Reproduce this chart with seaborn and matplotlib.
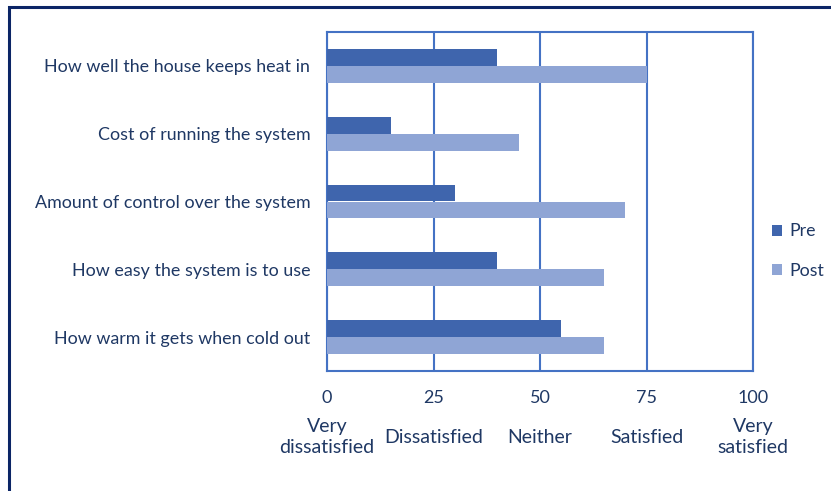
import pandas as pd
import matplotlib.pyplot as plt
import seaborn as sns
from matplotlib.patches import Rectangle
import matplotlib.transforms as mtransforms

# Dados
questions = ['How well the house keeps heat in',
             'Cost of running the system',
             'Amount of control over the system',
             'How easy the system is to use',
             'How warm it gets when cold out']
pre = [40, 15, 30, 40, 55]
post = [75, 45, 70, 65, 65]
ticks = [0, 25, 50, 75, 100]
scale_labels = ['Very\ndissatisfied', 'Dissatisfied', 'Neither', 'Satisfied', 'Very\nsatisfied']

df = pd.DataFrame({
    'Question': questions * 2,
    'Score': pre + post,
    'Group': ['Pre'] * len(pre) + ['Post'] * len(post),
})

sns.set_style('white')
plt.rcParams['font.family'] = ['Lato', 'DejaVu Sans']
txt = '#1F3864'
grid_c = '#4472C4'

fig = plt.figure(figsize=(8.31, 4.91), dpi=100)
ax = fig.add_axes([327 / 831, 1 - 371 / 491, 426 / 831, 339 / 491])

sns.barplot(data=df, x='Score', y='Question', hue='Group', hue_order=['Pre', 'Post'],
            palette={'Pre': '#3F65AD', 'Post': '#8FA5D5'}, orient='h',
            width=0.5, gap=0, saturation=1, linewidth=0, ax=ax, zorder=3)

ax.set_xlim(0, 100)
ax.set_xticks(ticks)
ax.xaxis.grid(True, color=grid_c, linewidth=1.5, zorder=0)
ax.yaxis.grid(False)
for s in ax.spines.values():
    s.set_color(grid_c)
    s.set_linewidth(1.5)
ax.set_xlabel('')
ax.set_ylabel('')
ax.tick_params(axis='x', length=0, pad=14, labelsize=13, labelcolor=txt)
ax.tick_params(axis='y', length=0, pad=12, labelsize=12.9, labelcolor=txt)

# Rótulos da escala
trans = mtransforms.blended_transform_factory(ax.transData, ax.transAxes)
for t, lab in zip(ticks, scale_labels):
    ax.text(t, -0.195, lab, transform=trans, ha='center', va='center',
            fontsize=14, color=txt, linespacing=1.25)

ax.legend(loc='center left', bbox_to_anchor=(772 / 831, 1 - 251 / 491),
          bbox_transform=fig.transFigure, frameon=False, fontsize=12.8,
          borderpad=0, borderaxespad=0,
          handlelength=0.55, handleheight=0.55, handletextpad=0.4,
          labelspacing=1.3, labelcolor=txt)

# Moldura
fig.patches.append(Rectangle((9 / 831, -0.1), 1.2, 1 - 7 / 491 + 0.1,
                             transform=fig.transFigure, fill=False,
                             edgecolor='#0B2566', linewidth=2.2))

fig.savefig('out.png', dpi=100)
